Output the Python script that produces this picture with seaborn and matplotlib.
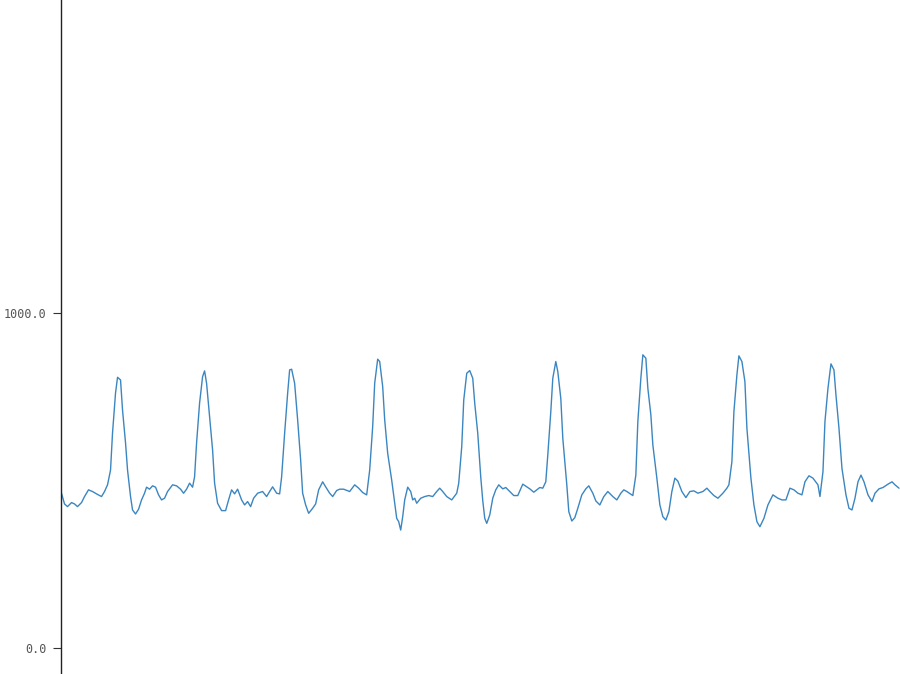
import matplotlib
matplotlib.use("Agg")
import matplotlib.pyplot as plt
import numpy as np
import seaborn as sns

# ECG-like trace, sample index vs. amplitude
samples = [0, 3, 6, 10, 13, 16, 20, 23, 27, 31, 35, 40, 43, 46, 49, 51, 54, 56, 59, 61,
           64, 66, 69, 71, 74, 77, 80, 83, 85, 88, 91, 94, 97, 100, 103, 106, 111, 115, 119, 122,
           125, 128, 131, 133, 135, 138, 141, 143, 145, 148, 151, 153, 156, 160, 164, 167, 170, 173, 176, 180,
           183, 186, 189, 192, 196, 201, 205, 208, 211, 215, 218, 220, 223, 226, 228, 230, 233, 236, 239, 241,
           244, 247, 251, 254, 257, 261, 264, 268, 271, 275, 278, 282, 288, 293, 297, 301, 305, 308, 311, 313,
           316, 318, 321, 323, 326, 330, 333, 335, 337, 339, 341, 343, 346, 349, 351, 353, 355, 359, 363, 367,
           371, 375, 378, 381, 385, 390, 395, 397, 400, 402, 405, 408, 411, 413, 416, 419, 421, 423, 425, 428,
           431, 434, 437, 441, 444, 448, 452, 456, 461, 465, 468, 472, 475, 478, 481, 484, 486, 489, 491, 494,
           496, 499, 501, 505, 507, 510, 513, 516, 520, 524, 527, 531, 534, 538, 542, 546, 551, 555, 559, 562,
           565, 569, 571, 574, 576, 579, 581, 584, 586, 589, 591, 595, 598, 601, 604, 607, 610, 613, 616, 620,
           624, 628, 632, 636, 641, 645, 648, 652, 656, 661, 665, 667, 670, 672, 675, 677, 680, 683, 685, 689,
           692, 695, 698, 702, 706, 711, 716, 720, 724, 728, 732, 736, 740, 743, 747, 751, 756, 758, 761, 763,
           766, 769, 772, 774, 777, 780, 784, 787, 790, 793, 796, 799, 802, 806, 810, 813, 817, 821, 826, 830,
           833, 837]
amplitude = [462, 430, 422, 434, 430, 422, 434, 452, 472, 467, 460, 452, 467, 487, 531, 642, 761, 808, 800, 710,
             612, 531, 452, 412, 400, 414, 442, 462, 480, 474, 484, 480, 457, 442, 447, 467, 487, 484, 474, 462,
             474, 492, 480, 511, 612, 731, 810, 827, 790, 690, 591, 492, 432, 410, 410, 442, 472, 460, 474, 442,
             427, 437, 422, 447, 462, 467, 452, 467, 481, 462, 460, 511, 641, 760, 830, 832, 790, 681, 561, 462,
             427, 402, 417, 430, 472, 496, 481, 462, 452, 470, 474, 474, 467, 487, 477, 464, 457, 531, 661, 790,
             862, 855, 780, 681, 581, 501, 432, 387, 377, 352, 392, 442, 480, 467, 442, 447, 432, 447, 452, 455,
             452, 467, 477, 467, 452, 442, 462, 492, 601, 740, 820, 828, 805, 730, 641, 510, 440, 387, 372, 397,
             447, 472, 487, 475, 479, 467, 455, 455, 489, 481, 475, 465, 472, 479, 477, 496, 576, 705, 805, 855,
             825, 745, 626, 487, 407, 379, 389, 417, 457, 475, 484, 462, 439, 427, 452, 467, 452, 442, 462, 472,
             467, 459, 455, 516, 676, 805, 875, 865, 775, 696, 606, 507, 427, 392, 382, 407, 467, 507, 498, 467,
             449, 467, 469, 462, 467, 477, 467, 455, 447, 462, 477, 487, 556, 705, 815, 872, 855, 795, 656, 507,
             427, 377, 362, 387, 427, 457, 447, 442, 442, 477, 472, 462, 457, 496, 514, 507, 487, 452, 526, 676,
             775, 848, 830, 755, 656, 536, 457, 417, 412, 447, 496, 516, 496, 457, 437, 462, 475, 479, 489, 496,
             487, 477]

y_ticks = [0.0, 1000.0]
y_tick_labels = ["0.0", "1000.0"]

sns.set_style("white")
plt.rcParams["font.family"] = ["DejaVu Sans Mono", "DejaVu Sans"]

fig = plt.figure(figsize=(9, 6.74), dpi=100)
ax = fig.add_axes([61.5 / 900, 0, 1 - 61.5 / 900, 1])

sns.lineplot(x=samples, y=amplitude, ax=ax, color="#3b86c0", linewidth=1.0)

ax.set_xlim(0, 838)
ax.set_ylim(-77.6, 1934)
ax.set_xticks([])
ax.set_yticks(y_ticks)
ax.set_yticklabels(y_tick_labels)
ax.tick_params(axis="y", direction="out", length=6, width=0.8, color="#333333",
               labelsize=8.5, labelcolor="#555555", pad=5, left=True)
ax.set_xlabel("")
ax.set_ylabel("")

for side in ["top", "right", "bottom"]:
    ax.spines[side].set_visible(False)
ax.spines["left"].set_color("#222222")
ax.spines["left"].set_linewidth(1.0)

fig.savefig("out.png", dpi=100)
